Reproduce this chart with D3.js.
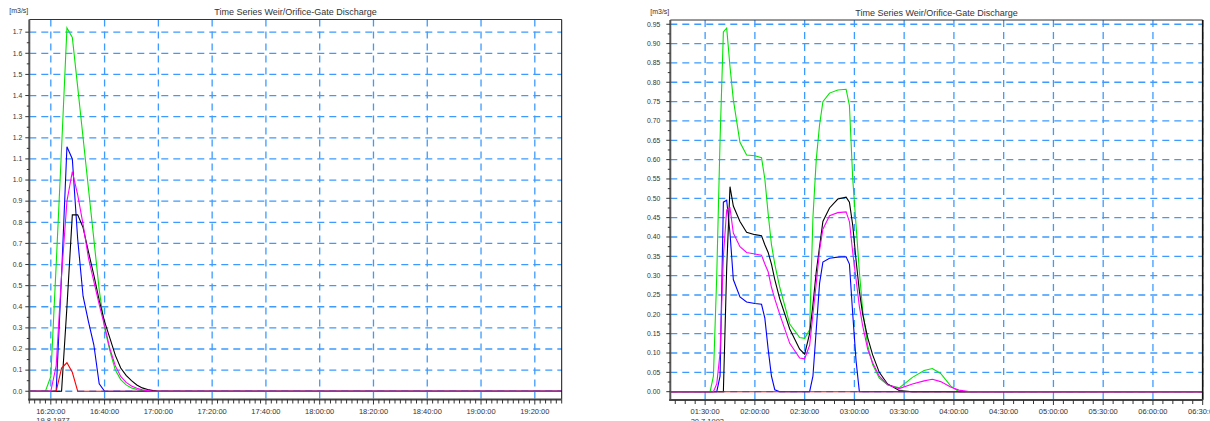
<!DOCTYPE html>
<html>
<head>
<meta charset="utf-8">
<script src="https://cdn.jsdelivr.net/npm/d3@7"></script>
<style>
  body { margin: 0; background: #fff; }
  text { font-family: Arial, "Liberation Sans", sans-serif; fill: #333; }
</style>
</head>
<body>
<script>
// ===================== data =====================

// left chart, 19.8.1977 (discharge in m3/s)
var leftTimes   = ["16:12","16:16","16:18","16:20","16:22","16:24","16:26","16:28","16:30","16:32","16:34","16:36","16:38",
                   "16:40","16:42","16:44","16:46","16:48","16:50","16:52","16:54","16:56","16:58","17:00","19:30"];
var leftGreen   = [0,0,0,0.07,0.6,1.15,1.72,1.675,1.44,1.2,0.96,0.72,0.48,0.3,0.19,0.1,0.055,0.03,0.016,0.008,0.004,0.001,0,0,0];
var leftBlue    = [0,0,0,0,0,0.55,1.158,1.1,0.72,0.45,0.33,0.22,0.035,0,0,0,0,0,0,0,0,0,0,0,0];
var leftBlack   = [0,0,0,0,0,0,0.4,0.835,0.835,0.775,0.66,0.55,0.43,0.33,0.25,0.17,0.11,0.075,0.05,0.03,0.016,0.008,0.003,0,0];
var leftRed     = [0,0,0,0,0,0.11,0.135,0.09,0,0,0,0,0,0,0,0,0,0,0,0,0,0,0,0,0];
var leftMagenta = [0,0,0,0,0.12,0.55,0.9,1.04,0.93,0.79,0.63,0.52,0.41,0.31,0.2,0.12,0.07,0.042,0.025,0.014,0.007,0.003,0,0,0];

// right chart, 20.7.1993
var rightTimes   = ["01:09","01:30","01:33","01:35","01:37","01:39","01:41","01:43","01:45","01:47","01:51","01:55","02:00","02:04",
                    "02:06","02:08","02:10","02:12","02:15","02:21","02:27","02:30","02:33","02:35","02:37","02:39","02:41","02:45",
                    "02:50","02:55","02:57","02:59","03:01","03:03","03:05","03:08","03:11","03:15","03:20","03:27","03:35","03:42",
                    "03:47","03:52","03:58","04:03","04:10","06:30"];
var rightGreen   = [0,0,0,0.04,0.3,0.65,0.93,0.94,0.84,0.755,0.645,0.612,0.61,0.605,0.55,0.46,0.38,0.33,0.27,0.175,0.14,0.138,0.16,0.45,
                    0.6,0.69,0.75,0.772,0.78,0.782,0.74,0.55,0.43,0.31,0.21,0.12,0.07,0.035,0.018,0.01,0.037,0.055,0.06,0.047,0.015,0,0,0];
var rightBlue    = [0,0,0,0,0,0.04,0.49,0.495,0.41,0.29,0.245,0.232,0.228,0.226,0.19,0.11,0.04,0.005,0,0,0,0,0,0.04,
                    0.16,0.28,0.335,0.345,0.348,0.349,0.33,0.2,0.08,0,0,0,0,0,0,0,0,0,0,0,0,0,0,0];
var rightBlack   = [0,0,0,0,0,0,0,0.32,0.53,0.48,0.44,0.412,0.406,0.403,0.38,0.36,0.33,0.29,0.24,0.162,0.11,0.097,0.15,0.225,
                    0.31,0.375,0.44,0.475,0.498,0.503,0.49,0.43,0.34,0.26,0.2,0.14,0.095,0.05,0.02,0.003,0,0,0,0,0,0,0,0];
var rightRed     = rightTimes.map(function(){ return 0; });
var rightMagenta = [0,0,0,0,0.02,0.1,0.35,0.47,0.475,0.41,0.375,0.36,0.356,0.353,0.33,0.31,0.27,0.24,0.2,0.125,0.087,0.085,0.12,0.2,
                    0.28,0.365,0.42,0.455,0.463,0.465,0.44,0.36,0.29,0.22,0.17,0.11,0.075,0.04,0.018,0.008,0.02,0.028,0.032,0.026,0.012,0.004,0,0];

var chartTitle = "Time Series Weir/Orifice-Gate Discharge";
var unitLabel  = "[m3/s]";

// ===================== drawing =====================

var W = 1210, H = 421;
var parseT = d3.timeParse("%H:%M");
var fmtT = d3.timeFormat("%H:%M:%S");
var gridColor = "#3d9bff";

var svg = d3.select("body").append("svg")
    .attr("width", W).attr("height", H)
    .style("display", "block");
svg.append("rect").attr("width", W).attr("height", H).attr("fill", "#fff");

function drawChart(cfg) {
    var g = svg.append("g");
    var x = d3.scaleTime().domain(cfg.xDomain.map(parseT)).range([cfg.left, cfg.right]);
    var y = d3.scaleLinear().domain(cfg.yDomain).range([cfg.bottom, cfg.top]);

    var yMajor = d3.range(0, cfg.yMax + 1e-9, cfg.yStep);
    var yMinor = d3.range(0, cfg.yMax + 1e-9, cfg.yStep / 2);
    var xMajor = x.ticks(d3.timeMinute.every(cfg.xMajorMin));
    var xMinor = x.ticks(d3.timeMinute.every(cfg.xMinorMin));

    // dashed grid
    g.selectAll(".hg").data(yMajor).enter().append("line")
        .attr("x1", cfg.left).attr("x2", cfg.right)
        .attr("y1", d => y(d)).attr("y2", d => y(d))
        .attr("stroke", gridColor).attr("stroke-width", 1.3)
        .attr("stroke-dasharray", "7,5");
    g.selectAll(".vg").data(xMajor).enter().append("line")
        .attr("x1", d => x(d)).attr("x2", d => x(d))
        .attr("y1", cfg.top).attr("y2", cfg.bottom)
        .attr("stroke", gridColor).attr("stroke-width", 1.3)
        .attr("stroke-dasharray", "7,5");

    // series
    var clipId = "clip" + cfg.id;
    svg.append("clipPath").attr("id", clipId).append("rect")
        .attr("x", cfg.left).attr("y", cfg.top)
        .attr("width", cfg.right - cfg.left).attr("height", cfg.bottom - cfg.top);
    var times = cfg.times.map(parseT);
    var line = d3.line().x((d, i) => x(times[i])).y(d => y(d));
    var sg = g.append("g").attr("clip-path", "url(#" + clipId + ")");
    cfg.series.forEach(function(s) {
        sg.append("path").attr("d", line(s.values))
            .attr("fill", "none").attr("stroke", s.color).attr("stroke-width", 1.1);
    });

    // frame
    g.append("line").attr("x1", cfg.left).attr("x2", cfg.right).attr("y1", cfg.top).attr("y2", cfg.top)
        .attr("stroke", "#333").attr("stroke-width", 1);
    g.append("line").attr("x1", cfg.right).attr("x2", cfg.right).attr("y1", cfg.top).attr("y2", cfg.bottom)
        .attr("stroke", "#111").attr("stroke-width", cfg.rightW);
    g.append("line").attr("x1", cfg.left).attr("x2", cfg.left).attr("y1", cfg.top).attr("y2", cfg.bottom + 1)
        .attr("stroke", "#555").attr("stroke-width", 2);
    g.append("line").attr("x1", cfg.left - 1).attr("x2", cfg.right).attr("y1", cfg.bottom).attr("y2", cfg.bottom)
        .attr("stroke", "#444").attr("stroke-width", 2);

    // y ticks
    g.selectAll(".ymt").data(yMinor).enter().append("line")
        .attr("x1", d => cfg.left - (Math.abs(d / cfg.yStep - Math.round(d / cfg.yStep)) < 1e-6 ? 4 : 2.5))
        .attr("x2", cfg.left)
        .attr("y1", d => y(d)).attr("y2", d => y(d))
        .attr("stroke", "#333").attr("stroke-width", 1);
    g.selectAll(".yl").data(yMajor).enter().append("text")
        .attr("x", cfg.left - cfg.yLabelGap).attr("y", d => y(d) + 2.3)
        .attr("text-anchor", "end").attr("font-size", "6.8px")
        .text(d => d3.format(cfg.yFmt)(d));

    // x ticks
    var majorSet = new Set(xMajor.map(d => +d));
    g.selectAll(".xmt").data(xMinor).enter().append("line")
        .attr("x1", d => x(d)).attr("x2", d => x(d))
        .attr("y1", cfg.bottom).attr("y2", d => cfg.bottom + (majorSet.has(+d) ? 5 : 4))
        .attr("stroke", "#333").attr("stroke-width", 1);
    g.selectAll(".xl").data(xMajor).enter().append("text")
        .attr("x", d => x(d)).attr("y", cfg.bottom + 14)
        .attr("text-anchor", "middle").attr("font-size", "7.5px")
        .text(d => fmtT(d));
    g.append("text")
        .attr("x", x(xMajor[0]) - 14.5).attr("y", cfg.bottom + 23.5)
        .attr("font-size", "7.5px")
        .text(cfg.date);

    // title and unit
    g.append("text")
        .attr("x", (cfg.left + cfg.right) / 2).attr("y", cfg.top - 4.5)
        .attr("text-anchor", "middle").attr("font-size", "9px").attr("fill", "#222")
        .text(chartTitle);
    g.append("text")
        .attr("x", cfg.left - 1).attr("y", cfg.top - 6.5)
        .attr("text-anchor", "end").attr("font-size", "7px")
        .text(unitLabel);
}

drawChart({
    id: "L", left: 29.3, right: 561.7, top: 19.5, bottom: 399.5, rightW: 1,
    xDomain: ["16:12", "19:30"], yDomain: [-0.039, 1.76],
    yMax: 1.7, yStep: 0.1, yFmt: ".1f", yLabelGap: 7,
    xMajorMin: 20, xMinorMin: 2, date: "19.8.1977",
    times: leftTimes,
    series: [
        { color: "#00e600", values: leftGreen },
        { color: "#0000ff", values: leftBlue },
        { color: "#000000", values: leftBlack },
        { color: "#ff0000", values: leftRed },
        { color: "#ff00ff", values: leftMagenta }
    ]
});

drawChart({
    id: "R", left: 670.3, right: 1202.7, top: 20, bottom: 400, rightW: 1.6,
    xDomain: ["01:09", "06:30"], yDomain: [-0.0215, 0.961],
    yMax: 0.95, yStep: 0.05, yFmt: ".2f", yLabelGap: 10,
    xMajorMin: 30, xMinorMin: 6, date: "20.7.1993",
    times: rightTimes,
    series: [
        { color: "#00e600", values: rightGreen },
        { color: "#0000ff", values: rightBlue },
        { color: "#000000", values: rightBlack },
        { color: "#ff0000", values: rightRed },
        { color: "#ff00ff", values: rightMagenta }
    ]
});
</script>
</body>
</html>
